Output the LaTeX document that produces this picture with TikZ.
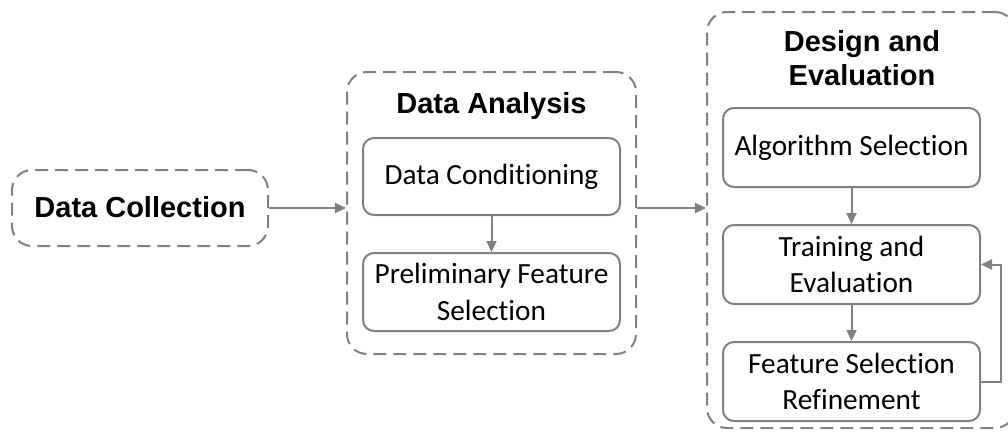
\documentclass[tikz,border=0pt]{standalone}
\usepackage{fontspec}
\setmainfont{Carlito}[Ligatures=NoCommon]
\newfontfamily\arialfont{Liberation Sans}
\usetikzlibrary{arrows.meta}
\definecolor{linegray}{HTML}{808080}
\begin{document}
\begin{tikzpicture}[x=1pt,y=-1pt,line width=2pt,
  outer/.style={draw=linegray,dash pattern=on 13pt off 7pt,rounded corners=20pt,inner sep=0pt},
  inner/.style={draw=linegray,rounded corners=11pt,align=center,inner sep=0pt,
    minimum width=257pt,font=\fontsize{29.3}{36.5}\selectfont},
  title/.style={font=\arialfont\bfseries\fontsize{29}{34}\selectfont,align=center,inner sep=0pt},
  arr/.style={draw=linegray,-{Triangle[length=11pt,width=10pt]}}]
\useasboundingbox (0,0) rectangle (1008,431);
\clip (0,0) rectangle (1008,431);
% outer groups
\node[outer,minimum width=256pt,minimum height=76pt] (dcoll) at (140,208) {};
\node[title,anchor=base] (dcolltitle) at (140,217) {Data Collection};
\node[outer,minimum width=289pt,minimum height=282pt] (da) at (491.5,213) {};
\node[title,anchor=base] (datitle) at (491.5,113) {Data Analysis};
\node[outer,minimum width=308pt,minimum height=416pt] (de) at (861,220) {};
\node[title] (detitle) at (862,58) {Design and\\Evaluation};
% inner boxes
\node[inner,minimum height=77pt] (dcond) at (491.5,176.5) {Data Conditioning};
\node[inner,minimum height=78pt] (pfs) at (491.5,292) {Preliminary Feature\\Selection};
\node[inner,minimum height=79pt] (as) at (851.5,147.5) {Algorithm Selection};
\node[inner,minimum height=79pt] (te) at (851.5,264.5) {Training and\\Evaluation};
\node[inner,minimum height=79pt] (fsr) at (851.5,381.5) {Feature Selection\\Refinement};
% connectors
\draw[arr] (dcoll.east) -- (dcoll.east -| da.west);
\draw[arr] (dcoll.east -| da.east) -- (dcoll.east -| de.west);
\draw[arr] (dcond) -- (pfs);
\draw[arr] (as) -- (te);
\draw[arr] (te) -- (fsr);
\draw[arr] (fsr.east) -- ++(20,0) |- (te.east);
\end{tikzpicture}
\end{document}
